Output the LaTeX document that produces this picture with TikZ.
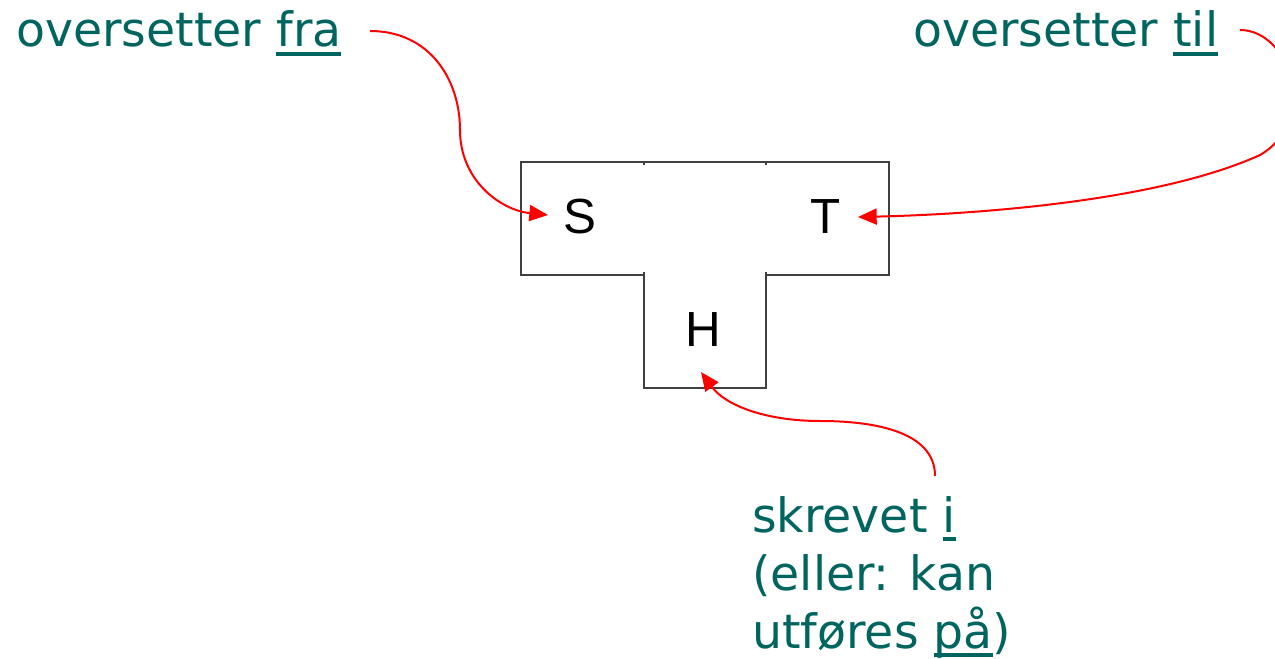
\documentclass[tikz,border=0pt]{standalone}
\usepackage{fontspec}
\setmainfont{Liberation Sans}
\newfontfamily\notefont{DejaVu Sans}
\usetikzlibrary{arrows.meta}
\definecolor{noteteal}{RGB}{0,100,95}
\definecolor{arrred}{RGB}{255,0,0}
\newcommand\myul[1]{\setbox0\hbox{#1}\rlap{\raisebox{-6.8pt}{\color{noteteal}\rule{\wd0}{3pt}}}\box0}
\begin{document}
\begin{tikzpicture}[x=0.75pt,y=-0.75pt,
  note/.style={anchor=base west,inner sep=0pt,text=noteteal,font=\notefont\fontsize{35.5}{43.5}\selectfont,align=left},
  letter/.style={inner sep=0pt,font=\fontsize{37}{40}\selectfont},
  pointer/.style={draw=arrred,line width=1.5pt,-{Triangle[length=14pt,width=12pt]}},
  outline/.style={draw=black!75,line width=0.8pt}]
\useasboundingbox (0,0) rectangle (1275,659);
% T-shape
\draw[outline] (521,162) -- (889,162) -- (889,275) -- (766,275) -- (766,388) -- (644,388) -- (644,275) -- (521,275) -- cycle;
\draw[outline] (644,162) -- (644,165);
\draw[outline] (766,162) -- (766,165);
\draw[outline] (644,275) -- (644,272);
\draw[outline] (766,275) -- (766,272);
\node[letter] (S) at (580,217) {S};
\node[letter] (T) at (826,217) {T};
\node[letter] (H) at (703,330) {H};
% notes
\node[note] (fra) at (16,47) {oversetter \myul{fra}};
\node[note] (til) at (913,47) {oversetter \myul{til}};
\node[note] (skr) at (752,648) {skrevet \myul{i}\\(eller: kan\\utføres \myul{på})};
% connector points
\coordinate (a1) at (370,31);
\coordinate (e1) at (548,215);
\coordinate (a2) at (1240,30);
\coordinate (e2) at (858,217);
\coordinate (a3) at (935,476);
\coordinate (e3) at (701,372);
\draw[pointer] (a1) .. controls (430,31) and (460,80) .. (460,130) .. controls (460,180) and (500,210) .. (e1);
\begin{scope}
\clip (0,0) rectangle (1275,659);
\draw[pointer] (a2) .. controls (1290,30) and (1320,120) .. (1260,155) .. controls (1150,205) and (950,215) .. (e2);
\end{scope}
\draw[pointer] (a3) .. controls (935,430) and (870,421) .. (820,421) .. controls (765,421) and (725,405) .. (e3);
\end{tikzpicture}
\end{document}
